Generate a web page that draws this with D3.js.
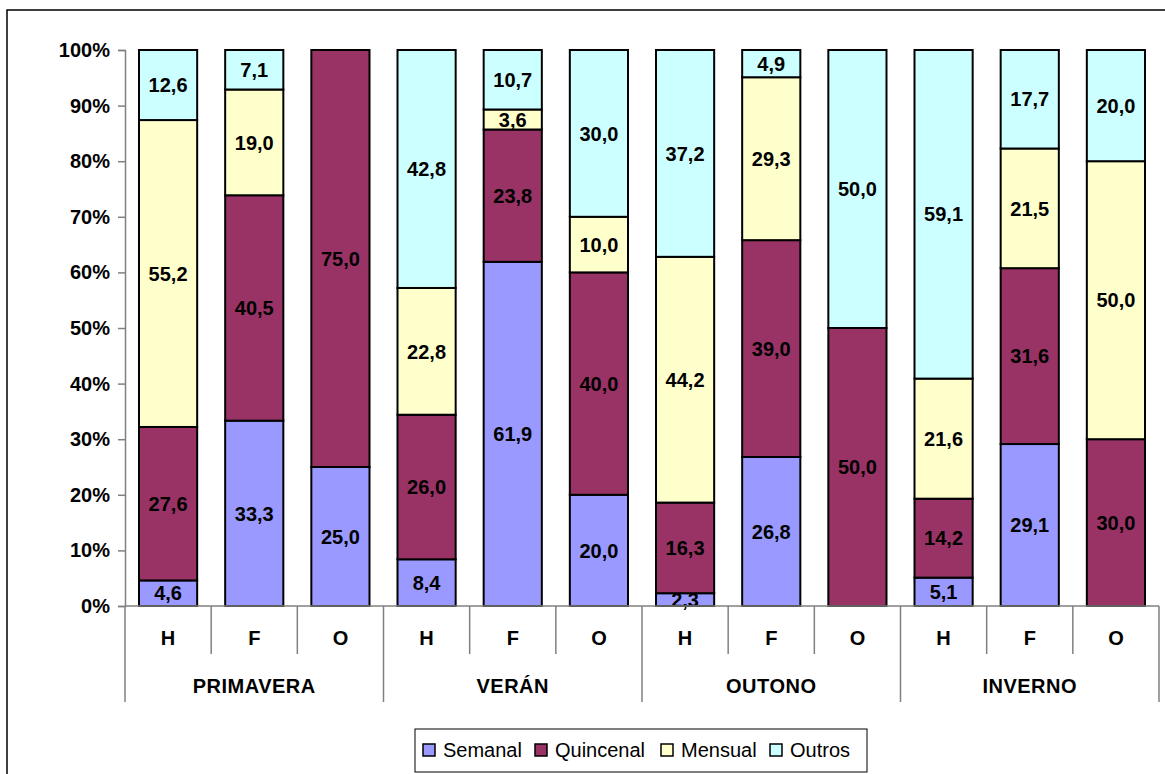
<!DOCTYPE html>
<html>
<head>
<meta charset="utf-8">
<script src="https://cdn.jsdelivr.net/npm/d3@7"></script>
<style>
  body { margin: 0; background: #fff; }
  svg { font-family: Arial, "Liberation Sans", sans-serif; }
</style>
</head>
<body>
<div id="chart"></div>
<script>
// data
const seasons = ["PRIMAVERA", "VERÁN", "OUTONO", "INVERNO"];
const types = ["H", "F", "O"];
const seriesNames = ["Semanal", "Quincenal", "Mensual", "Outros"];
const semanal   = [4.6, 33.3, 25.0, 8.4, 61.9, 20.0, 2.3, 26.8, 0, 5.1, 29.1, 0];
const quincenal = [27.6, 40.5, 75.0, 26.0, 23.8, 40.0, 16.3, 39.0, 50.0, 14.2, 31.6, 30.0];
const mensual   = [55.2, 19.0, 0, 22.8, 3.6, 10.0, 44.2, 29.3, 0, 21.6, 21.5, 50.0];
const outros    = [12.6, 7.1, 0, 42.8, 10.7, 30.0, 37.2, 4.9, 50.0, 59.1, 17.7, 20.0];
const yTicks = [0, 10, 20, 30, 40, 50, 60, 70, 80, 90, 100];
const colors = ["#9999FF", "#993366", "#FFFFCC", "#CCFFFF"];

window.onload = () => {
  const width = 1165, height = 774;
  const svg = d3.select("#chart").append("svg")
    .attr("width", width).attr("height", height);

  // outer chart border
  svg.append("rect")
    .attr("x", 7).attr("y", 10).attr("width", 1180).attr("height", 800)
    .attr("fill", "none").attr("stroke", "#000").attr("stroke-width", 1.5);

  // build rows
  const rows = [];
  seasons.forEach((s, i) => types.forEach((t, j) => {
    const k = i * 3 + j;
    rows.push({ key: k, season: s, type: t,
      Semanal: semanal[k], Quincenal: quincenal[k], Mensual: mensual[k], Outros: outros[k] });
  }));

  const x = d3.scaleBand().domain(rows.map(d => d.key)).range([125, 1159]).padding(0);
  const y = d3.scaleLinear().domain([0, 100]).range([606, 50]);
  const color = d3.scaleOrdinal().domain(seriesNames).range(colors);
  const barW = x.bandwidth() * 0.675;

  const stack = d3.stack().keys(seriesNames).offset(d3.stackOffsetExpand);
  const layers = stack(rows);

  const g = svg.append("g");
  layers.forEach(layer => {
    g.selectAll(null).data(layer.filter(d => d[1] - d[0] > 0)).enter()
      .append("rect")
      .attr("x", d => x(d.data.key) + (x.bandwidth() - barW) / 2)
      .attr("width", barW)
      .attr("y", d => y(d[1] * 100))
      .attr("height", d => y(d[0] * 100) - y(d[1] * 100))
      .attr("fill", color(layer.key))
      .attr("stroke", "#000").attr("stroke-width", 2);
  });

  // value labels
  const fmt = v => d3.format(".1f")(v).replace(".", ",");
  layers.forEach(layer => {
    g.selectAll(null).data(layer.filter(d => d.data[layer.key] > 0)).enter()
      .append("text")
      .attr("x", d => x(d.data.key) + x.bandwidth() / 2)
      .attr("y", d => y((d[0] + d[1]) * 50))
      .attr("dy", "0.36em")
      .attr("text-anchor", "middle")
      .attr("font-size", 20).attr("font-weight", "bold")
      .text(d => fmt(d.data[layer.key]));
  });

  // y axis
  const yAxis = svg.append("g").attr("transform", "translate(125,0)")
    .call(d3.axisLeft(y).tickValues(yTicks).tickSize(7).tickFormat(d => d + "%"));
  yAxis.select(".domain").attr("stroke", "#808080").attr("stroke-width", 1.5);
  yAxis.selectAll(".tick line").attr("stroke", "#808080").attr("stroke-width", 1.5);
  yAxis.selectAll(".tick text").attr("font-size", 20).attr("font-weight", "bold")
    .attr("fill", "#000").attr("font-family", "Arial, 'Liberation Sans', sans-serif").attr("x", -15);

  // x axis: baseline, category ticks, group ticks
  const ax = svg.append("g").attr("stroke", "#808080").attr("stroke-width", 1.5);
  ax.append("line").attr("x1", 125).attr("x2", 1159).attr("y1", 606).attr("y2", 606);
  d3.range(13).forEach(i => {
    const xp = i < 12 ? x(i) : x(11) + x.bandwidth();
    ax.append("line").attr("x1", xp).attr("x2", xp)
      .attr("y1", 606).attr("y2", i % 3 === 0 ? 702 : 654);
  });

  svg.append("g").selectAll("text").data(rows).enter().append("text")
    .attr("x", d => x(d.key) + x.bandwidth() / 2).attr("y", 645)
    .attr("text-anchor", "middle").attr("font-size", 20).attr("font-weight", "bold")
    .text(d => d.type);

  svg.append("g").selectAll("text").data(seasons).enter().append("text")
    .attr("x", (d, i) => (x(i * 3) + x(i * 3 + 2) + x.bandwidth()) / 2).attr("y", 693)
    .attr("text-anchor", "middle").attr("font-size", 20).attr("font-weight", "bold")
    .attr("letter-spacing", 0.5)
    .text(d => d);

  // legend
  const lg = svg.append("g");
  lg.append("rect").attr("x", 415).attr("y", 729).attr("width", 452).attr("height", 43)
    .attr("fill", "#fff").attr("stroke", "#000").attr("stroke-width", 1);
  const legX = [423, 535, 661, 770];
  seriesNames.forEach((s, i) => {
    lg.append("rect").attr("x", legX[i]).attr("y", 744).attr("width", 12).attr("height", 12)
      .attr("fill", colors[i]).attr("stroke", "#000").attr("stroke-width", 1.5);
    lg.append("text").attr("x", legX[i] + 20).attr("y", 757)
      .attr("font-size", 20).text(s);
  });
};
</script>
</body>
</html>
